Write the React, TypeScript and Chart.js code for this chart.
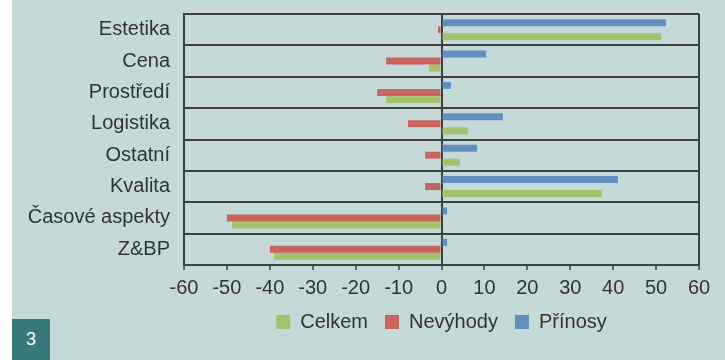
import React, { useEffect, useRef } from "react";
import { Chart, registerables } from "chart.js";

Chart.register(...registerables);

const categories = ["Estetika", "Cena", "Prostředí", "Logistika", "Ostatní", "Kvalita", "Časové aspekty", "Z&BP"];
const celkem = [51.2, -2.9, -12.9, 6.2, 4.3, 37.4, -48.8, -39];
const nevyhody = [-0.8, -12.9, -15, -7.8, -3.8, -3.8, -50, -40];
const prinosy = [52.3, 10.4, 2.2, 14.3, 8.3, 41.1, 1.3, 1.3];
const seriesNames = ["Celkem", "Nevýhody", "Přínosy"];

const GREEN = "#a6c06c";
const RED = "#c7645e";
const BLUE = "#608fc0";
const BG = "#c6d9d9";
const TEXT = "#333333";
const LINE = "#404040";
const FONT = "'Liberation Sans', Arial, sans-serif";

export default function App() {
  const ref = useRef<HTMLCanvasElement | null>(null);

  useEffect(() => {
    if (!ref.current) return;
    const chart = new Chart(ref.current, {
      type: "bar",
      data: {
        labels: categories,
        datasets: [
          { label: seriesNames[2], data: prinosy, backgroundColor: BLUE, borderWidth: 0 },
          { label: seriesNames[1], data: nevyhody, backgroundColor: RED, borderWidth: 0 },
          { label: seriesNames[0], data: celkem, backgroundColor: GREEN, borderWidth: 0 },
        ],
      },
      options: {
        indexAxis: "y",
        responsive: false,
        animation: false,
        datasets: { bar: { categoryPercentage: 0.67, barPercentage: 1 } },
        layout: { padding: { left: 0, right: 26, top: 14, bottom: 18 } },
        plugins: {
          tooltip: { enabled: false },
          legend: {
            position: "bottom",
            fullSize: false,
            reverse: true,
            labels: {
              boxWidth: 14,
              boxHeight: 14,
              padding: 17,
              color: TEXT,
              font: { family: FONT, size: 20 },
            },
          },
        },
        scales: {
          x: {
            min: -60,
            max: 60,
            ticks: {
              stepSize: 10,
              color: TEXT,
              padding: 6,
              font: { family: FONT, size: 20 },
            },
            grid: {
              color: (ctx: any) => {
                const v = ctx.tick ? ctx.tick.value : null;
                return v === 0 || v === -60 || v === 60 ? LINE : "rgba(0,0,0,0)";
              },
              lineWidth: 2,
              tickColor: LINE,
              tickLength: 5,
              tickWidth: 1.5,
            },
            border: { display: true, color: LINE, width: 2 },
            afterFit: (scale: any) => {
              scale.height = 30;
            },
          },
          y: {
            ticks: {
              color: TEXT,
              padding: 0,
              font: { family: FONT, size: 20 },
            },
            grid: {
              color: LINE,
              lineWidth: 2,
              drawTicks: true,
              tickLength: 14,
              tickColor: "rgba(0,0,0,0)",
              offset: true,
            },
            border: { display: true, color: LINE, width: 2 },
            afterFit: (scale: any) => {
              scale.width = 184;
              scale.paddingTop = 0;
              scale.paddingBottom = 0;
            },
          },
        },
      },
    });
    return () => chart.destroy();
  }, []);

  return (
    <div style={{ position: "absolute", left: 0, top: 0, width: 725, height: 360, background: "#ffffff" }}>
      <div style={{ position: "absolute", left: 12, top: 0, right: 0, bottom: 0, background: BG }} />
      <div
        style={{
          position: "absolute",
          left: 12,
          top: 319,
          width: 38,
          height: 41,
          background: "#377878",
          color: "#ffffff",
          fontFamily: FONT,
          fontSize: 18,
          display: "flex",
          alignItems: "center",
          justifyContent: "center",
        }}
      >
        3
      </div>
      <canvas ref={ref} width={725} height={360} style={{ position: "absolute", left: 0, top: 0 }} />
    </div>
  );
}
